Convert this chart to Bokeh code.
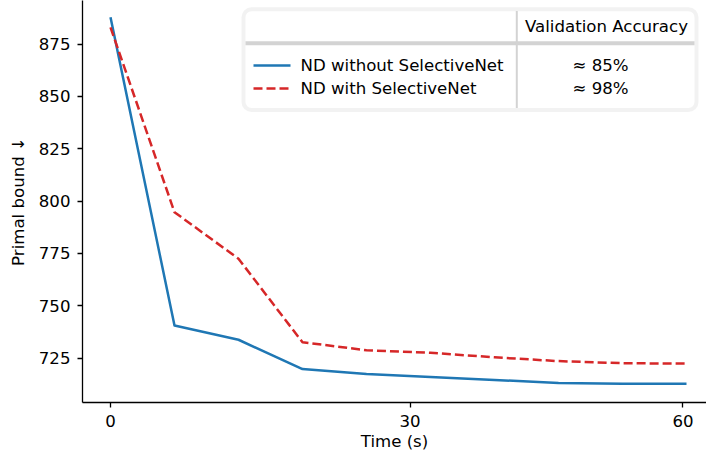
from bokeh.plotting import figure
from bokeh.models import FixedTicker, BoxAnnotation, Range1d
from bokeh.core.properties import value
from bokeh.embed import file_html
from bokeh.resources import INLINE

# ---- data ----
step = [0, 1, 2, 3, 4, 5, 6, 7, 8, 9]
without_selnet = [887.8, 740.6, 733.8, 719.8, 717.4, 716.0, 714.6, 713.2, 712.8, 712.8]
with_selnet = [883.0, 794.7, 772.5, 732.6, 728.8, 727.6, 725.4, 723.6, 722.6, 722.4]
series_names = ["ND without SelectiveNet", "ND with SelectiveNet"]
accuracy_labels = ["\u2248 85%", "\u2248 98%"]
table_header = "Validation Accuracy"
x_tick_pos = [0, 4.68, 8.945]
x_tick_labels = ["0", "30", "60"]
y_ticks = [725, 750, 775, 800, 825, 850, 875]

BLUE = "#1f77b4"
RED = "#d62728"
GRAY = "#d3d3d3"
FONT = "DejaVu Sans"
FS = "16.6px"

# ---- ranges / frame geometry (screen px of the page) ----
X0, X1 = -0.4375, 9.3125
Y0, Y1 = 703.84, 895.8
FL, FR, FT, FB = 82.0, 706.0, 0.0, 402.0


def dx(px):
    return X0 + (px - FL) / (FR - FL) * (X1 - X0)


def dy(py):
    return Y1 - (py - FT) / (FB - FT) * (Y1 - Y0)


p = figure(width=706, height=458, output_backend="svg", toolbar_location=None,
           x_range=Range1d(X0, X1), y_range=Range1d(Y0, Y1),
           min_border_left=82, min_border_bottom=56, min_border_top=0, min_border_right=0)
p.grid.visible = False
p.outline_line_color = None
p.background_fill_color = "white"
p.border_fill_color = "white"

p.line(step, without_selnet, line_color=BLUE, line_width=2.5, line_join="round")
p.line(step, with_selnet, line_color=RED, line_width=2.5, line_dash="9 4", line_join="round")

# axes
p.xaxis.ticker = FixedTicker(ticks=x_tick_pos)
p.xaxis.major_label_overrides = dict(zip(x_tick_pos, x_tick_labels))
p.yaxis.ticker = FixedTicker(ticks=y_ticks)
p.xaxis.axis_label = "Time (s)"
p.yaxis.axis_label = "Primal bound \u2193"
for ax in (p.xaxis[0], p.yaxis[0]):
    ax.minor_tick_line_color = None
    ax.major_tick_out = 5
    ax.major_tick_in = 0
    ax.axis_line_width = 1.3
    ax.major_tick_line_width = 1.3
    ax.axis_line_color = "black"
    ax.major_tick_line_color = "black"
    ax.major_label_text_font = FONT
    ax.major_label_text_font_size = FS
    ax.major_label_text_color = "black"
    ax.major_label_standoff = 7
    ax.axis_label_text_font = FONT
    ax.axis_label_text_font_size = FS
    ax.axis_label_text_font_style = "normal"
    ax.axis_label_text_color = "black"
p.xaxis.axis_label_standoff = 2
p.yaxis.axis_label_standoff = 8

# ---- table-style legend ----
box = BoxAnnotation(left=dx(243), right=dx(696), top=dy(8.7), bottom=dy(109.5),
                    fill_color="white", fill_alpha=1.0, line_color=GRAY, line_width=4,
                    border_radius=8)
p.add_layout(box)

p.segment(x0=[dx(245)], y0=[dy(42.8)], x1=[dx(694)], y1=[dy(42.8)],
          line_color=GRAY, line_width=4, level="overlay")
p.segment(x0=[dx(516.3)], y0=[dy(10.5)], x1=[dx(516.3)], y1=[dy(107.5)],
          line_color=GRAY, line_width=2, level="overlay")

p.segment(x0=[dx(253)], y0=[dy(65)], x1=[dx(290)], y1=[dy(65)],
          line_color=BLUE, line_width=2.5, level="overlay")
p.segment(x0=[dx(253)], y0=[dy(88)], x1=[dx(290)], y1=[dy(88)],
          line_color=RED, line_width=2.5, line_dash="9 4", level="overlay")

p.text(x=[dx(300), dx(300)], y=[dy(65), dy(88)], text=series_names,
       text_font=value(FONT), text_font_size=FS, text_color="black",
       text_align="left", text_baseline="middle", level="overlay")
p.text(x=[dx(600), dx(600)], y=[dy(65), dy(88)], text=accuracy_labels,
       text_font=value(FONT), text_font_size=FS, text_color="black",
       text_align="center", text_baseline="middle", level="overlay")
p.text(x=[dx(606)], y=[dy(26)], text=[table_header],
       text_font=value(FONT), text_font_size=FS, text_color="black",
       text_align="center", text_baseline="middle", level="overlay")

open("out.html", "w").write(file_html(p, INLINE))
